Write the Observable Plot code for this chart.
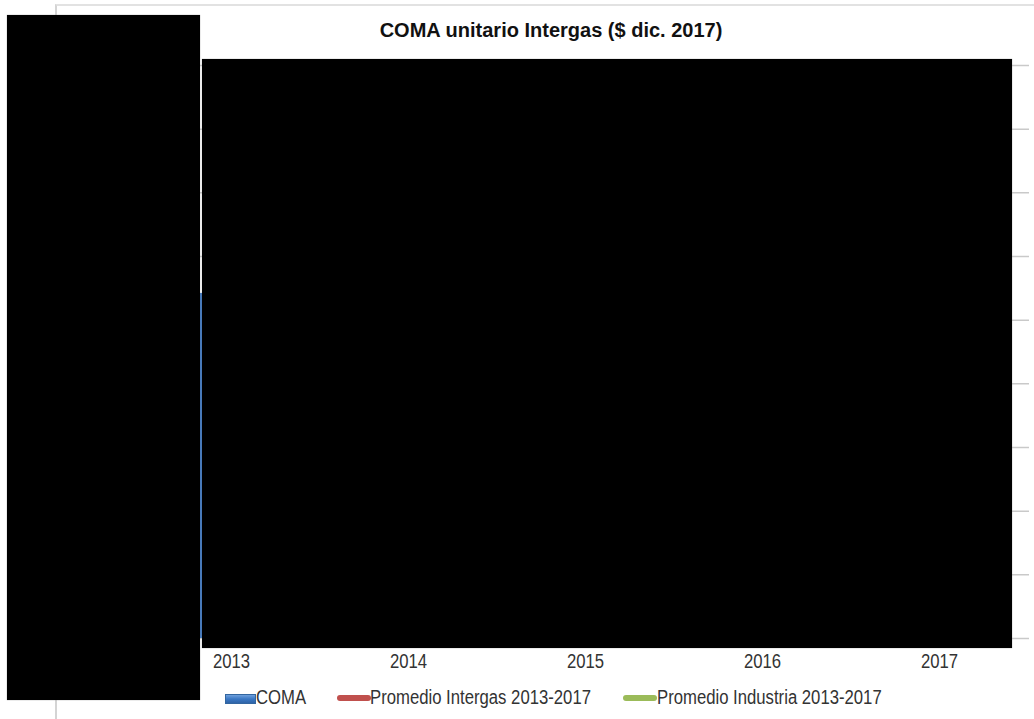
<!DOCTYPE html>
<html>
<head>
<meta charset="utf-8">
<script src="https://cdn.jsdelivr.net/npm/d3@7"></script>
<script src="https://cdn.jsdelivr.net/npm/@observablehq/plot@0.6"></script>
<style>
  html, body { margin: 0; padding: 0; background: #fff; }
  #wrap { position: relative; width: 1034px; height: 719px; overflow: hidden; font-family: "Liberation Sans", Arial, sans-serif; }
  #frame { position: absolute; left: 55px; top: 4px; width: 1000px; height: 740px; border-left: 2px solid #d4d4d4; border-top: 2px solid #e2e2e2; }
  #title { position: absolute; left: 100px; width: 902px; top: 19px; text-align: center; font-weight: bold; font-size: 20px; color: #111; }
  #chart { position: absolute; left: 0; top: 0; }
  .legend { position: absolute; top: 686px; font-size: 20px; color: #333; white-space: nowrap; line-height: 23px; transform: scaleX(0.835); transform-origin: left center; }
  .sw { position: absolute; }
  .blk { position: absolute; background: #000; box-shadow: 0 0 1px #888; }
</style>
</head>
<body>
<div id="wrap">
  <div id="frame"></div>
  <div id="title">COMA unitario Intergas ($ dic. 2017)</div>
  <div id="chart"></div>
</div>
<script>
// Data (only the 2013 bar is legible in the reference; the rest is covered and estimated)
const years = ["2013", "2014", "2015", "2016", "2017"];
const coma = [54200, 52000, 50500, 49000, 51500];
const promedioIntergas = [51440, 51440, 51440, 51440, 51440];
const promedioIndustria = [47000, 47000, 47000, 47000, 47000];
const yTicks = [0, 10000, 20000, 30000, 40000, 50000, 60000, 70000, 80000, 90000];
const legendLabels = ["COMA", "Promedio Intergas 2013-2017", "Promedio Industria 2013-2017"];
const legendColors = ["#3b78c4", "#c0504d", "#9bbb59"];

const rows = years.map((y, i) => ({ year: y, value: coma[i], intergas: promedioIntergas[i], industria: promedioIndustria[i] }));

const chart = Plot.plot({
  width: 1034,
  height: 680,
  marginLeft: 141,
  marginRight: 5,
  marginTop: 65,
  marginBottom: 42,
  style: { fontFamily: '"Liberation Sans", Arial, sans-serif', background: "transparent", overflow: "visible" },
  x: { domain: years, paddingInner: 0.4, paddingOuter: 0.2, label: null },
  y: { domain: [0, 90000], ticks: yTicks, label: null },
  marks: [
    Plot.gridY(yTicks, { stroke: "#c9c9c9", strokeOpacity: 1, strokeWidth: 1.5 }),
    Plot.barY(rows, { x: "year", y: "value", fill: legendColors[0] }),
    Plot.lineY(rows, { x: "year", y: "intergas", stroke: legendColors[1], strokeWidth: 3 }),
    Plot.lineY(rows, { x: "year", y: "industria", stroke: legendColors[2], strokeWidth: 3 }),
    Plot.axisX({ tickSize: 0, tickPadding: 15, fontSize: 20, fill: "#333" }),
    Plot.axisY({ ticks: yTicks, tickSize: 0, fontSize: 16, fill: "#333", tickFormat: d3.format(",") })
  ]
});
document.getElementById("chart").appendChild(chart);

// narrow the axis tick labels (reference uses a condensed face)
chart.querySelectorAll("g[aria-label='x-axis tick label'] text").forEach(t => {
  const b = t.getBBox();
  const cx = b.x + b.width / 2;
  const tr = t.getAttribute("transform") || "";
  t.setAttribute("transform", `${tr} translate(${cx},0) scale(0.835,1) translate(${-cx},0)`);
});

// Legend
const wrap = document.getElementById("wrap");
const legendPos = [
  { sx: 225, sw: 29, tx: 256, kind: "rect" },
  { sx: 337, sw: 34, tx: 370, kind: "line" },
  { sx: 623, sw: 34, tx: 657, kind: "line" }
];
legendLabels.forEach((lab, i) => {
  const p = legendPos[i];
  const s = document.createElement("div");
  s.className = "sw";
  s.style.left = p.sx + "px";
  s.style.width = p.sw + "px";
  if (p.kind === "rect") {
    s.style.top = "694px"; s.style.height = "8px";
    s.style.background = "linear-gradient(#6fa0dc, #3b78c4 50%, #2f64a8)";
    s.style.border = "1px solid #3366a0";
  } else {
    s.style.top = "695px"; s.style.height = "6px"; s.style.borderRadius = "3px";
    s.style.background = legendColors[i];
  }
  wrap.appendChild(s);
  const t = document.createElement("div");
  t.className = "legend";
  t.style.left = p.tx + "px";
  t.textContent = lab;
  wrap.appendChild(t);
});

// Redaction boxes present in the reference image
[[7, 15, 193, 685], [202, 59, 810, 589]].forEach(([l, t, w, h]) => {
  const b = document.createElement("div");
  b.className = "blk";
  Object.assign(b.style, { left: l + "px", top: t + "px", width: w + "px", height: h + "px" });
  wrap.appendChild(b);
});
</script>
</body>
</html>
